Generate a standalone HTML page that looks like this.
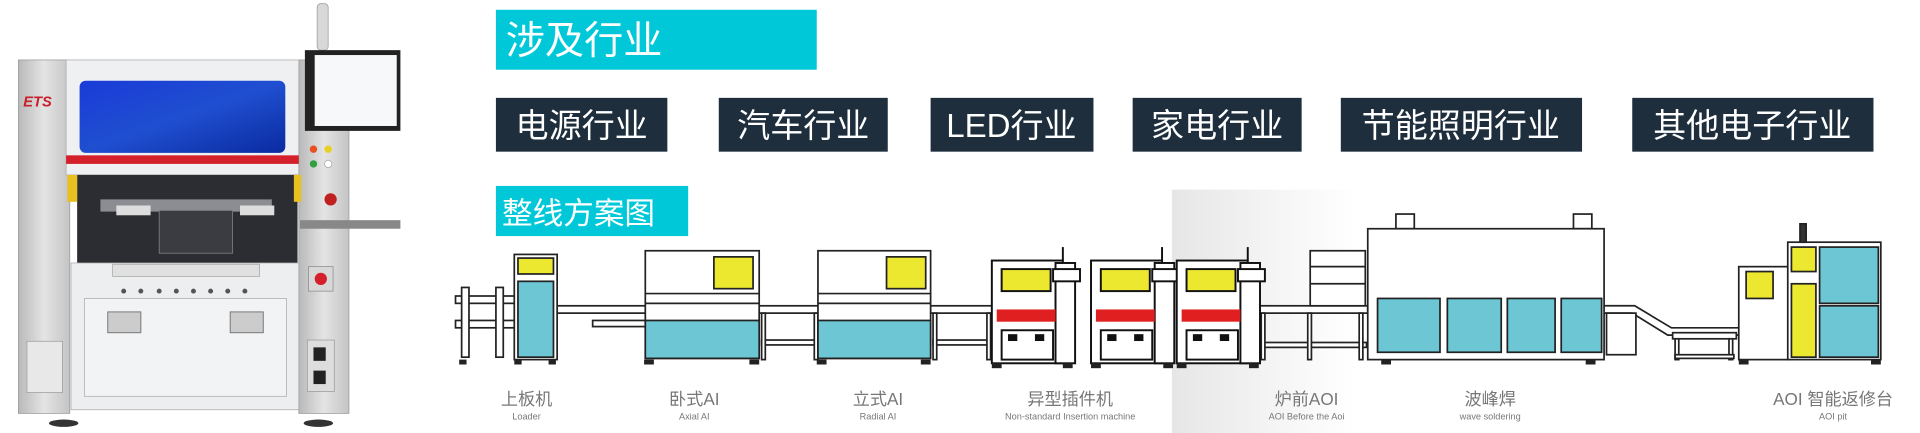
<!DOCTYPE html>
<html><head><meta charset="utf-8"><style>
html,body{margin:0;padding:0;background:#fff;}
svg{display:block;}
text{font-family:"Liberation Sans","Noto Sans CJK SC",sans-serif;}
</style></head><body>
<svg width="1920" height="433" viewBox="0 0 1568 354" preserveAspectRatio="none" xmlns="http://www.w3.org/2000/svg">
<defs>
<linearGradient id="sh" x1="0" x2="1" y1="0" y2="0">
<stop offset="0" stop-color="#e6e6e6"/><stop offset="0.5" stop-color="#f3f3f3"/><stop offset="1" stop-color="#fff"/>
</linearGradient>
<linearGradient id="gp" x1="0" x2="1"><stop offset="0" stop-color="#b9b9b9"/><stop offset="0.5" stop-color="#e4e4e4"/><stop offset="1" stop-color="#c4c4c4"/></linearGradient>
<linearGradient id="bl" x1="0" x2="1" y1="0" y2="1"><stop offset="0" stop-color="#1a3bd8"/><stop offset="0.5" stop-color="#1f4fd0"/><stop offset="1" stop-color="#0a2aa0"/></linearGradient>
</defs>
<rect x="957" y="155" width="150" height="199" fill="url(#sh)"/>

<!-- machine photo -->
<rect x="259" y="3" width="9" height="38" rx="3" fill="#d8d8d8" stroke="#999" stroke-width="0.6"/>
<rect x="15" y="49" width="42" height="289" fill="url(#gp)" stroke="#999" stroke-width="0.6"/>
<rect x="244" y="49" width="41" height="289" fill="url(#gp)" stroke="#999" stroke-width="0.6"/>
<rect x="54" y="49" width="190" height="94" fill="#eef0f2" stroke="#aaa" stroke-width="0.6"/>
<rect x="65" y="66" width="168" height="59" rx="5" fill="url(#bl)"/>
<rect x="54" y="127" width="190" height="7" fill="#d4202a"/>
<rect x="63" y="143" width="180" height="72" fill="#2b2d33"/>
<rect x="82" y="163" width="140" height="10" fill="#8b8d92"/>
<rect x="95" y="168" width="28" height="8" fill="#ddd"/><rect x="196" y="168" width="28" height="8" fill="#ddd"/>
<rect x="130" y="172" width="60" height="35" fill="#3a3c42" stroke="#888" stroke-width="0.6"/>
<rect x="55" y="143" width="8" height="22" fill="#e8c020"/><rect x="240" y="143" width="6" height="22" fill="#e8c020"/>
<rect x="58" y="215" width="186" height="120" fill="#eceef0" stroke="#aaa" stroke-width="0.6"/>
<rect x="92" y="216" width="120" height="10" fill="#e0e0e0" stroke="#999" stroke-width="0.5"/>
<g fill="#555"><circle cx="101" cy="238" r="2"/><circle cx="115" cy="238" r="2"/><circle cx="130" cy="238" r="2"/><circle cx="144" cy="238" r="2"/><circle cx="158" cy="238" r="2"/><circle cx="172" cy="238" r="2"/><circle cx="186" cy="238" r="2"/><circle cx="200" cy="238" r="2"/></g>
<rect x="69" y="244" width="165" height="80" fill="#f2f3f5" stroke="#aaa" stroke-width="0.6"/>
<rect x="88" y="255" width="27" height="17" fill="#ccc" stroke="#777" stroke-width="0.8"/>
<rect x="188" y="255" width="27" height="17" fill="#ccc" stroke="#777" stroke-width="0.8"/>
<rect x="22" y="279" width="29" height="42" fill="#e8e8e8" stroke="#999" stroke-width="0.6"/>
<rect x="251" y="278" width="22" height="42" fill="#ddd" stroke="#999" stroke-width="0.6"/>
<rect x="256" y="284" width="10" height="11" fill="#222"/><rect x="256" y="303" width="10" height="11" fill="#222"/>
<rect x="249" y="41" width="78" height="66" fill="#222"/>
<rect x="257" y="45" width="67" height="58" fill="#f6f8fa"/>
<rect x="245" y="180" width="82" height="7" fill="#888"/>
<rect x="252" y="218" width="20" height="20" fill="#d8d8d8" stroke="#888" stroke-width="0.6"/>
<circle cx="262" cy="228" r="5" fill="#d4202a"/>
<circle cx="256" cy="122" r="3" fill="#e85020"/><circle cx="268" cy="122" r="3" fill="#e8d020"/>
<circle cx="256" cy="134" r="3" fill="#30a040"/><circle cx="268" cy="134" r="3" fill="#fff" stroke="#999" stroke-width="0.5"/>
<circle cx="270" cy="163" r="5" fill="#c02020"/>
<text x="19" y="87" font-size="12" font-weight="bold" fill="#c8202a" font-style="italic">ETS</text>
<ellipse cx="52" cy="346" rx="12" ry="3" fill="#333"/><ellipse cx="260" cy="346" rx="12" ry="3" fill="#333"/>

<!-- titles -->
<rect x="405" y="8" width="262" height="49" fill="#00c8d8"/>
<text x="413" y="44" font-size="32" fill="#fff">涉及行业</text>
<g font-size="27" fill="#fff">
<rect x="405" y="80" width="140" height="44" fill="#1e2e3c"/><text x="475" y="112" text-anchor="middle">电源行业</text>
<rect x="587" y="80" width="138" height="44" fill="#1e2e3c"/><text x="656" y="112" text-anchor="middle">汽车行业</text>
<rect x="760" y="80" width="133" height="44" fill="#1e2e3c"/><text x="826" y="112" text-anchor="middle">LED行业</text>
<rect x="925" y="80" width="138" height="44" fill="#1e2e3c"/><text x="994" y="112" text-anchor="middle">家电行业</text>
<rect x="1095" y="80" width="197" height="44" fill="#1e2e3c"/><text x="1193" y="112" text-anchor="middle">节能照明行业</text>
<rect x="1333" y="80" width="197" height="44" fill="#1e2e3c"/><text x="1431" y="112" text-anchor="middle">其他电子行业</text>
</g>
<rect x="405" y="152" width="157" height="41" fill="#00c8d8"/>
<text x="410" y="183" font-size="25" fill="#fff">整线方案图</text>

<!-- line diagram -->
<g stroke="#222" stroke-width="1.4" fill="#fff">
<rect x="372" y="242" width="50" height="6"/><rect x="372" y="262" width="50" height="6"/>
<rect x="377" y="235" width="6" height="57"/><rect x="405" y="235" width="6" height="57"/>
<rect x="455" y="250" width="75" height="6"/><rect x="484" y="262" width="44" height="5"/>
<rect x="620" y="250" width="50" height="6"/><rect x="622" y="278" width="46" height="4"/><rect x="622" y="256" width="3" height="38"/><rect x="665" y="256" width="3" height="38"/>
<rect x="760" y="250" width="52" height="6"/><rect x="762" y="278" width="46" height="4"/><rect x="762" y="256" width="3" height="38"/><rect x="806" y="256" width="3" height="38"/>
<rect x="1020" y="250" width="97" height="6"/><rect x="1022" y="280" width="94" height="4"/><rect x="1030" y="256" width="3" height="38"/><rect x="1068" y="256" width="3" height="38"/><rect x="1110" y="256" width="3" height="38"/>
<rect x="1070" y="205" width="45" height="45"/><line x1="1070" y1="218" x2="1115" y2="218"/><line x1="1070" y1="232" x2="1115" y2="232"/>
<polyline points="1310,250 1335,250 1365,268 1420,268" fill="none"/>
<polyline points="1310,256 1333,256 1362,274 1420,274" fill="none"/>
<rect x="1312" y="256" width="24" height="34"/>
<rect x="1366" y="272" width="52" height="5"/><rect x="1368" y="277" width="3" height="17"/><rect x="1412" y="277" width="3" height="17"/>
<rect x="1368" y="290" width="48" height="3"/>

<rect x="420" y="208" width="35" height="86"/>
<rect x="423" y="211" width="29" height="13" fill="#ece830"/>
<rect x="423" y="230" width="29" height="62" fill="#6cc6d4"/>

<rect x="527" y="205" width="93" height="88"/>
<rect x="583" y="210" width="32" height="26" fill="#ece830"/>
<line x1="527" y1="240" x2="620" y2="240"/><line x1="527" y1="248" x2="620" y2="248"/>
<rect x="527" y="262" width="93" height="31" fill="#6cc6d4"/>
<rect x="668" y="205" width="92" height="88"/>
<rect x="724" y="210" width="32" height="26" fill="#ece830"/>
<line x1="668" y1="240" x2="760" y2="240"/><line x1="668" y1="248" x2="760" y2="248"/>
<rect x="668" y="262" width="92" height="31" fill="#6cc6d4"/>

<rect x="1140" y="175" width="15" height="12"/><rect x="1285" y="175" width="15" height="12"/>
<rect x="1117" y="187" width="193" height="107"/>
<rect x="1125" y="244" width="51" height="44" fill="#6cc6d4"/>
<rect x="1182" y="244" width="44" height="44" fill="#6cc6d4"/>
<rect x="1231" y="244" width="39" height="44" fill="#6cc6d4"/>
<rect x="1275" y="244" width="33" height="44" fill="#6cc6d4"/>

<rect x="1420" y="218" width="42" height="76"/>
<rect x="1426" y="222" width="22" height="22" fill="#ece830"/>
<rect x="1460" y="198" width="76" height="96"/>
<rect x="1463" y="202" width="20" height="20" fill="#ece830"/>
<rect x="1463" y="232" width="20" height="60" fill="#ece830"/>
<rect x="1486" y="202" width="48" height="46" fill="#6cc6d4"/>
<rect x="1486" y="250" width="48" height="42" fill="#6cc6d4"/>
<rect x="1470" y="183" width="5" height="15" fill="#333"/>
</g>

<g stroke="#111" stroke-width="1.6" fill="#fff">
<g transform="translate(810,0)">
<rect x="0" y="213" width="58" height="84"/><rect x="52" y="215" width="16" height="82"/><rect x="50" y="220" width="22" height="10"/>
<rect x="8" y="220" width="40" height="18" fill="#ece830"/><rect x="4" y="253" width="48" height="10" fill="#e02020" stroke="none"/>
<rect x="8" y="270" width="42" height="24"/><rect x="14" y="274" width="6" height="4" fill="#111"/><rect x="36" y="274" width="6" height="4" fill="#111"/>
<line x1="58" y1="202" x2="58" y2="213"/>
</g>
<g transform="translate(891,0)">
<rect x="0" y="213" width="58" height="84"/><rect x="52" y="215" width="16" height="82"/><rect x="50" y="220" width="22" height="10"/>
<rect x="8" y="220" width="40" height="18" fill="#ece830"/><rect x="4" y="253" width="48" height="10" fill="#e02020" stroke="none"/>
<rect x="8" y="270" width="42" height="24"/><rect x="14" y="274" width="6" height="4" fill="#111"/><rect x="36" y="274" width="6" height="4" fill="#111"/>
<line x1="58" y1="202" x2="58" y2="213"/>
</g>
<g transform="translate(961,0)">
<rect x="0" y="213" width="58" height="84"/><rect x="52" y="215" width="16" height="82"/><rect x="50" y="220" width="22" height="10"/>
<rect x="8" y="220" width="40" height="18" fill="#ece830"/><rect x="4" y="253" width="48" height="10" fill="#e02020" stroke="none"/>
<rect x="8" y="270" width="42" height="24"/><rect x="14" y="274" width="6" height="4" fill="#111"/><rect x="36" y="274" width="6" height="4" fill="#111"/>
<line x1="58" y1="202" x2="58" y2="213"/>
</g>
</g>
<g fill="#222">
<rect x="375" y="294" width="6" height="4"/><rect x="420" y="294" width="6" height="4"/><rect x="448" y="294" width="6" height="4"/>
<rect x="526" y="294" width="8" height="4"/><rect x="612" y="294" width="8" height="4"/><rect x="667" y="294" width="8" height="4"/><rect x="752" y="294" width="8" height="4"/>
<rect x="810" y="297" width="8" height="4"/><rect x="868" y="297" width="8" height="4"/><rect x="891" y="297" width="8" height="4"/><rect x="950" y="297" width="8" height="4"/><rect x="961" y="297" width="8" height="4"/><rect x="1020" y="297" width="8" height="4"/>
<rect x="1128" y="294" width="8" height="4"/><rect x="1295" y="294" width="8" height="4"/>
<rect x="1420" y="294" width="8" height="4"/><rect x="1528" y="294" width="8" height="4"/>
</g>

<g text-anchor="middle" fill="#777">
<g font-size="14">
<text x="430" y="331">上板机</text><text x="567" y="331">卧式AI</text><text x="717" y="331">立式AI</text>
<text x="874" y="331">异型插件机</text><text x="1067" y="331">炉前AOI</text><text x="1217" y="331">波峰焊</text><text x="1497" y="331">AOI 智能返修台</text>
</g>
<g font-size="7.5">
<text x="430" y="343">Loader</text><text x="567" y="343">Axial AI</text><text x="717" y="343">Radial AI</text>
<text x="874" y="343">Non-standard Insertion machine</text><text x="1067" y="343">AOI Before the Aoi</text><text x="1217" y="343">wave soldering</text><text x="1497" y="343">AOI pit</text>
</g>
</g>
</svg>
</body></html>
